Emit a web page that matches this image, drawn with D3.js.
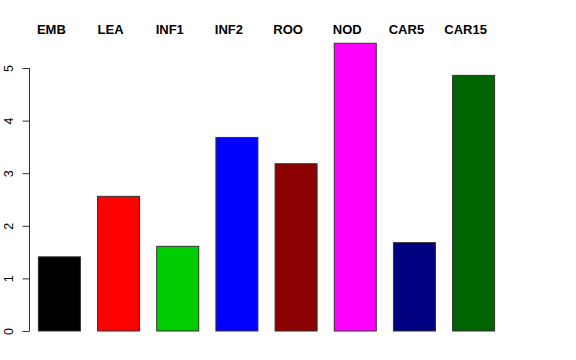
<!DOCTYPE html>
<html>
<head>
<meta charset="utf-8">
<script src="https://cdn.jsdelivr.net/npm/d3@7"></script>
<style>
  body { margin: 0; background: #fff; }
  text { font-family: "Liberation Sans", Arial, sans-serif; }
</style>
</head>
<body>
<script>
// chart data
var categories = ["EMB", "LEA", "INF1", "INF2", "ROO", "NOD", "CAR5", "CAR15"];
var values = [1.41, 2.56, 1.61, 3.68, 3.18, 5.47, 1.68, 4.86];
var colors = ["#000000", "#ff0000", "#00cd00", "#0000ff", "#8b0000", "#ff00ff", "#000080", "#006400"];
var yTicks = [0, 1, 2, 3, 4, 5];

var width = 576, height = 360;

var svg = d3.select("body").append("svg")
  .attr("width", width)
  .attr("height", height);

// scales
var x = d3.scaleBand()
  .domain(categories)
  .range([29.5, 503.5])
  .paddingInner(0.29)
  .paddingOuter(0.15);

var y = d3.scaleLinear()
  .domain([0, 5])
  .range([331, 68]);

// bars
svg.selectAll("rect.bar")
  .data(values)
  .enter()
  .append("rect")
  .attr("class", "bar")
  .attr("x", function(d, i) { return x(categories[i]); })
  .attr("y", function(d) { return y(d); })
  .attr("width", x.bandwidth())
  .attr("height", function(d) { return y(0) - y(d); })
  .style("fill", function(d, i) { return colors[i]; })
  .style("stroke", "#333")
  .style("stroke-width", 1);

// labels on top
svg.selectAll("text.lab")
  .data(categories)
  .enter()
  .append("text")
  .attr("class", "lab")
  .attr("x", function(d) { return x(d) + x.bandwidth() / 2 - 8; })
  .attr("y", 34)
  .attr("text-anchor", "middle")
  .style("font-weight", "bold")
  .style("font-size", "13px")
  .text(function(d) { return d; });

// y axis, R style
var axis = d3.axisLeft(y)
  .tickValues(yTicks)
  .tickSize(7)
  .tickPadding(0)
  .tickFormat(d3.format("d"));

var g = svg.append("g")
  .attr("transform", "translate(29.5,0)")
  .call(axis);

g.select(".domain")
  .attr("d", "M0," + y(0) + "V" + y(5))
  .style("stroke", "#333");
g.selectAll(".tick line").style("stroke", "#333");
g.selectAll(".tick text")
  .attr("x", 0)
  .attr("dy", 0)
  .attr("text-anchor", "middle")
  .attr("transform", function(d) { return "translate(-16.5,0) rotate(-90)"; })
  .style("font-size", "12.5px")
  .style("font-family", "Liberation Sans, Arial, sans-serif")
  .style("fill", "#000");
</script>
</body>
</html>
